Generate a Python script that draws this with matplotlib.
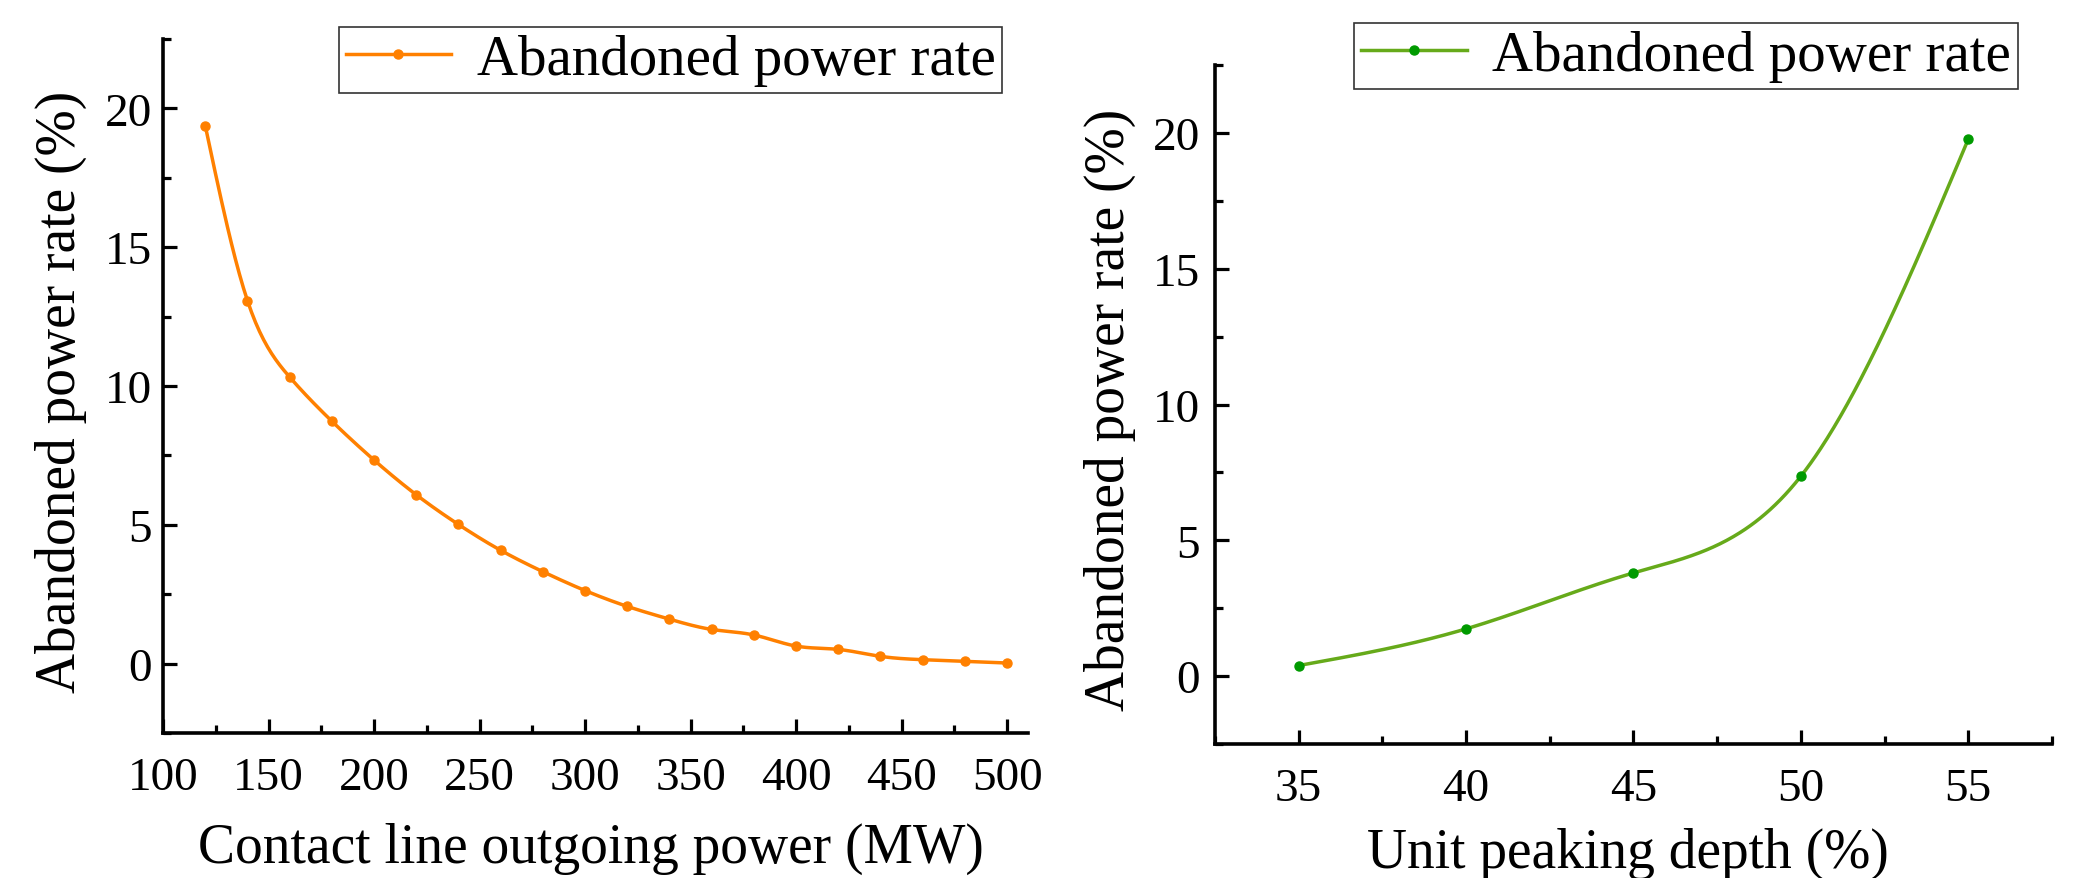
import numpy as np
import matplotlib
matplotlib.use('Agg')
import matplotlib.pyplot as plt
from matplotlib.ticker import MultipleLocator

# Left panel: abandoned power rate vs contact line outgoing power
outgoing_power = [120, 140, 160, 180, 200, 220, 240, 260, 280, 300,
                  320, 340, 360, 380, 400, 420, 440, 460, 480, 500]
rate_vs_power = [19.37, 13.07, 10.32, 8.73, 7.33, 6.08, 5.01, 4.08, 3.31, 2.63,
                 2.06, 1.60, 1.23, 1.03, 0.63, 0.51, 0.26, 0.14, 0.08, 0.02]

# Right panel: abandoned power rate vs unit peaking depth
peaking_depth = [35, 40, 45, 50, 55]
rate_vs_depth = [0.39, 1.74, 3.80, 7.36, 19.77]

legend_label = 'Abandoned power rate'


def natural_spline(x, y, n=400):
    """Smooth curve through the points (natural cubic spline)"""
    x = np.asarray(x, float)
    y = np.asarray(y, float)
    m = len(x)
    h = np.diff(x)
    A = np.zeros((m, m))
    b = np.zeros(m)
    A[0, 0] = 1
    A[-1, -1] = 1
    for i in range(1, m - 1):
        A[i, i - 1] = h[i - 1]
        A[i, i] = 2 * (h[i - 1] + h[i])
        A[i, i + 1] = h[i]
        b[i] = 6 * ((y[i + 1] - y[i]) / h[i] - (y[i] - y[i - 1]) / h[i - 1])
    M = np.linalg.solve(A, b)
    xs = np.linspace(x[0], x[-1], n)
    idx = np.clip(np.searchsorted(x, xs) - 1, 0, m - 2)
    x0, x1 = x[idx], x[idx + 1]
    hh = x1 - x0
    t0, t1 = x1 - xs, xs - x0
    ys = (M[idx] * t0 ** 3 / (6 * hh) + M[idx + 1] * t1 ** 3 / (6 * hh)
          + (y[idx] / hh - M[idx] * hh / 6) * t0
          + (y[idx + 1] / hh - M[idx + 1] * hh / 6) * t1)
    return xs, ys


plt.rcParams['font.family'] = ['Liberation Serif', 'DejaVu Serif']

fig = plt.figure(figsize=(20.75, 8.79), dpi=100)
ax1 = fig.add_axes([0.0786, 0.165, 0.4169, 0.7895])
ax2 = fig.add_axes([0.5855, 0.1524, 0.4034, 0.7725])


def draw_panel(ax, x, y, line_color, marker_color, ypad):
    xs, ys = natural_spline(x, y)
    ax.plot(xs, ys, color=line_color, lw=2.5, zorder=2)
    ax.plot(x, y, 'o', color=marker_color, ms=6.5, zorder=3)
    # proxy for legend (line with one marker)
    handle, = ax.plot([], [], color=line_color, lw=2.5, marker='o',
                      markerfacecolor=marker_color, markeredgecolor=marker_color, ms=6.5)
    for side in ['top', 'right']:
        ax.spines[side].set_visible(False)
    for side in ['left', 'bottom']:
        ax.spines[side].set_linewidth(2.6)
    ax.tick_params(which='major', direction='in', length=10, width=2.3, labelsize=34)
    ax.tick_params(which='minor', direction='in', length=5.5, width=2.3)
    ax.tick_params(axis='x', which='major', pad=17)
    ax.tick_params(axis='y', which='major', pad=ypad)
    ax.yaxis.set_major_locator(MultipleLocator(5))
    ax.yaxis.set_minor_locator(MultipleLocator(2.5))
    ax.set_ylim(-2.5, 22.5)
    return handle


h1 = draw_panel(ax1, outgoing_power, rate_vs_power, '#FF8000', '#FF8000', 8)
ax1.set_xlim(100, 510)
ax1.xaxis.set_major_locator(MultipleLocator(50))
ax1.xaxis.set_minor_locator(MultipleLocator(25))
ax1.set_xlabel('Contact line outgoing power (MW)', fontsize=40)
ax1.set_ylabel('Abandoned power rate (%)', fontsize=40)
ax1.xaxis.set_label_coords(0.495, -0.128)
ax1.yaxis.set_label_coords(-0.088, 0.493)
leg1 = ax1.legend([h1], [legend_label], loc='upper right', bbox_to_anchor=(0.970, 1.017),
                  fontsize=41, frameon=True, fancybox=False, edgecolor='black',
                  borderaxespad=0, borderpad=0.12, handlelength=1.85, handletextpad=0.45)
leg1.get_frame().set_linewidth(1.2)

h2 = draw_panel(ax2, peaking_depth, rate_vs_depth, '#66AA1A', '#009A00', 11)
ax2.set_xlim(32.5, 57.5)
ax2.xaxis.set_major_locator(MultipleLocator(5))
ax2.xaxis.set_minor_locator(MultipleLocator(2.5))
ax2.set_xlabel('Unit peaking depth (%)', fontsize=40)
ax2.set_ylabel('Abandoned power rate (%)', fontsize=40)
ax2.xaxis.set_label_coords(0.4934, -0.122)
ax2.yaxis.set_label_coords(-0.094, 0.493)
leg2 = ax2.legend([h2], [legend_label], loc='upper right', bbox_to_anchor=(0.9594, 1.062),
                  fontsize=41, frameon=True, fancybox=False, edgecolor='black',
                  borderaxespad=0, borderpad=0.12, handlelength=1.85, handletextpad=0.45)
leg2.get_frame().set_linewidth(1.2)

fig.savefig('out.png', dpi=100)
